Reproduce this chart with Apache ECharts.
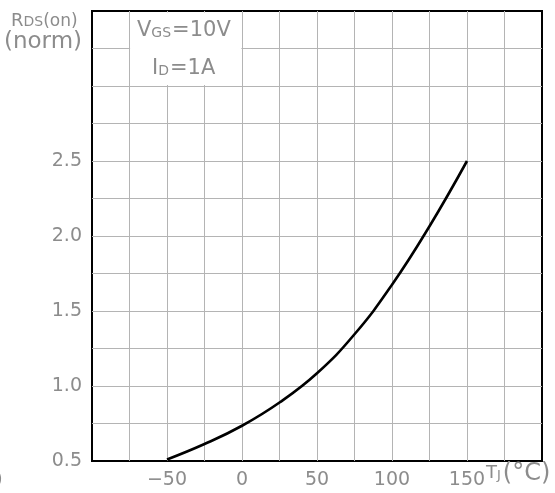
<!DOCTYPE html>
<html>
<head>
<meta charset="utf-8">
<script src="https://cdn.jsdelivr.net/npm/echarts@6/dist/echarts.min.js"></script>
<style>
  html, body { margin: 0; padding: 0; background: #fff; }
  #chart { width: 555px; height: 493px; }
</style>
</head>
<body>
<div id="chart"></div>
<script>
// Normalized on-resistance versus junction temperature
const junctionTemp = [-50, -25, 0, 25, 50, 75, 100, 125, 150];
const rdsNorm = [0.51, 0.613, 0.735, 0.89, 1.085, 1.345, 1.675, 2.065, 2.5];
const xTickLabels = [-50, 0, 50, 100, 150];
const yTickLabels = [0.5, 1.0, 1.5, 2.0, 2.5];
// white panel behind the test-condition note
const noteBox = [[-74.6, 3.49], [-0.4, 3.006]];

const FONT = 'DejaVu Sans';
const GREY = '#8c8c8c';

const chart = echarts.init(document.getElementById('chart'), null, { renderer: 'canvas' });

chart.setOption({
  animation: false,
  backgroundColor: '#fff',
  grid: { left: 92, right: 13, top: 11, bottom: 32, show: true, borderColor: '#000', borderWidth: 2, backgroundColor: 'transparent' },
  xAxis: {
    type: 'value', min: -100, max: 200, interval: 25,
    axisLine: { show: false },
    axisTick: { show: false },
    splitLine: { show: true, showMinLine: false, showMaxLine: false, lineStyle: { color: '#b4b4b4', width: 1 } },
    axisLabel: {
      margin: 10, color: GREY, fontFamily: FONT, fontSize: 19,
      formatter: v => xTickLabels.includes(v) ? String(v).replace('-', '\u2212') : ''
    }
  },
  yAxis: {
    type: 'value', min: 0.5, max: 3.5, interval: 0.25,
    axisLine: { show: false },
    axisTick: { show: false },
    splitLine: { show: true, showMinLine: false, showMaxLine: false, lineStyle: { color: '#b4b4b4', width: 1 } },
    axisLabel: {
      margin: 10, color: GREY, fontFamily: FONT, fontSize: 19,
      formatter: v => yTickLabels.some(t => Math.abs(t - v) < 1e-9) ? v.toFixed(1) : ''
    }
  },
  series: [{
    type: 'line',
    data: junctionTemp.map((t, i) => [t, rdsNorm[i]]),
    smooth: 0.45,
    symbol: 'none',
    lineStyle: { color: '#000', width: 2.6 },
    z: 5,
    markArea: {
      silent: true,
      itemStyle: { color: '#fff', opacity: 1 },
      data: [[{ coord: noteBox[0] }, { coord: noteBox[1] }]]
    }
  }],
  graphic: [
    {
      type: 'text', left: 11, top: 12, z: 10,
      style: {
        text: '{R|R}{s|DS}{p|(on)}', fill: GREY,
        rich: {
          R: { fontSize: 18, fontFamily: FONT, fill: GREY, verticalAlign: 'bottom' },
          s: { fontSize: 14, fontFamily: FONT, fill: GREY, verticalAlign: 'bottom', padding: [0, 0, 1, 0] },
          p: { fontSize: 17, fontFamily: FONT, fill: GREY, verticalAlign: 'bottom' }
        }
      }
    },
    {
      type: 'text', left: 4, top: 31, z: 10,
      style: { text: '(norm)', fill: GREY, font: '23px ' + FONT }
    },
    {
      type: 'text', left: 137, top: 20, z: 10,
      style: {
        text: '{V|V}{s|GS}{V|=10V}', fill: GREY,
        rich: {
          V: { fontSize: 21, fontFamily: FONT, fill: GREY, verticalAlign: 'bottom' },
          s: { fontSize: 14, fontFamily: FONT, fill: GREY, verticalAlign: 'bottom', padding: [0, 1, 1, 0] }
        }
      }
    },
    {
      type: 'text', left: 152, top: 58, z: 10,
      style: {
        text: '{V|I}{s|D}{V|=1A}', fill: GREY,
        rich: {
          V: { fontSize: 21, fontFamily: FONT, fill: GREY, verticalAlign: 'bottom' },
          s: { fontSize: 14, fontFamily: FONT, fill: GREY, verticalAlign: 'bottom', padding: [0, 1, 1, 0] }
        }
      }
    },
    {
      type: 'text', left: 486, top: 462, z: 10,
      style: {
        text: '{T|T}{s|J}{P|(°C)}', fill: GREY,
        rich: {
          T: { fontSize: 18, fontFamily: FONT, fill: GREY, verticalAlign: 'bottom', padding: [0, 0, 4, 0] },
          s: { fontSize: 13, fontFamily: FONT, fill: GREY, verticalAlign: 'bottom', padding: [0, 2, 4, 0] },
          P: { fontSize: 24, fontFamily: FONT, fill: GREY, verticalAlign: 'bottom' }
        }
      }
    },
    {
      type: 'text', left: -5, top: 470, z: 10,
      style: { text: ')', fill: GREY, font: '20px ' + FONT }
    }
  ]
});
</script>
</body>
</html>
